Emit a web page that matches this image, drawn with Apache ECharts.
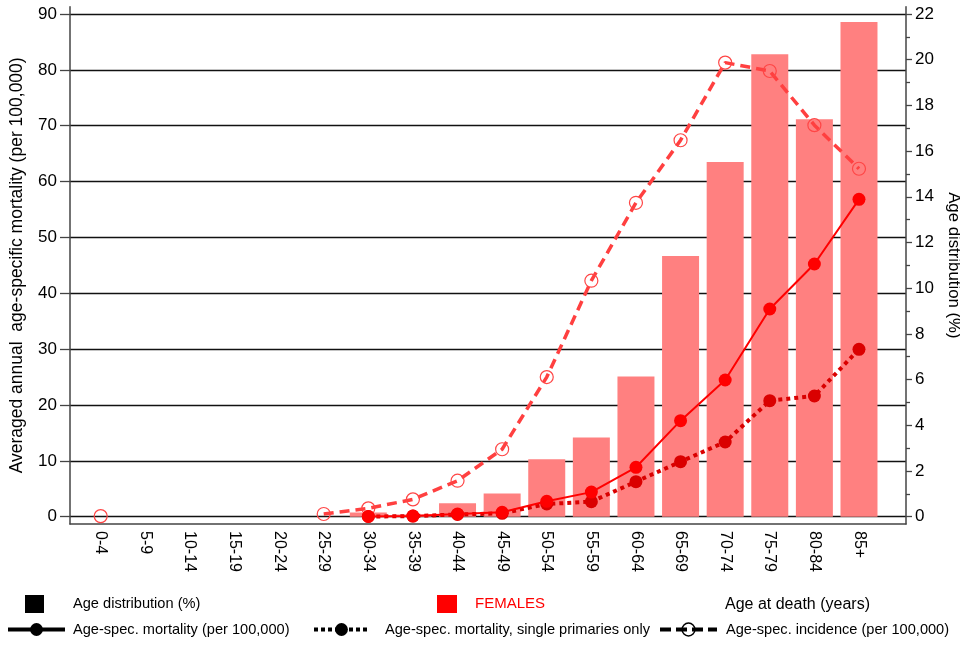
<!DOCTYPE html>
<html>
<head>
<meta charset="utf-8">
<script src="https://cdn.jsdelivr.net/npm/echarts@6/dist/echarts.min.js"></script>
<style>
  html, body { margin: 0; padding: 0; background: #fff; }
  #chart { width: 960px; height: 646px; }
</style>
</head>
<body>
<div id="chart"></div>
<script>
// Age groups (age at death, years)
const categories = ['0-4','5-9','10-14','15-19','20-24','25-29','30-34','35-39','40-44','45-49',
                    '50-54','55-59','60-64','65-69','70-74','75-79','80-84','85+'];

// Age distribution of deaths (%), right axis
const ageDistribution = [null, null, null, null, null, null, 0.18, 0.1, 0.59, 1.02,
                         2.51, 3.47, 6.13, 11.41, 15.52, 20.24, 17.39, 21.65];

// Age-specific mortality (per 100,000)
const mortality = [null, null, null, null, null, null, 0.05, 0.12, 0.48, 0.79,
                   2.75, 4.4, 8.84, 17.19, 24.47, 37.18, 45.24, 56.82];

// Age-specific mortality, single primaries only (per 100,000)
const mortalitySingle = [null, null, null, null, null, null, 0.03, 0.1, 0.4, 0.6,
                         2.27, 2.69, 6.27, 9.85, 13.37, 20.77, 21.61, 29.97];

// Age-specific incidence (per 100,000)
const incidence = [0.1, null, null, null, null, 0.48, 1.5, 3.1, 6.44, 12.07,
                   25.0, 42.25, 56.2, 67.4, 81.3, 79.8, 70.1, 62.3];

// Tick values
const leftTicks = [0, 10, 20, 30, 40, 50, 60, 70, 80, 90];
const rightTicks = [0, 2, 4, 6, 8, 10, 12, 14, 16, 18, 20, 22];
const rightMinorTicks = [1, 3, 5, 7, 9, 11, 13, 15, 17, 19, 21];

const FONT = '"Liberation Sans", Arial, sans-serif';
const LEGEND_FONT = 14.6;
const pairs = arr => arr.map((v, i) => [i, v]);
const catIndex = categories.map((c, i) => i);

const chart = echarts.init(document.getElementById('chart'), null, { renderer: 'canvas' });

const axisLineStyle = { color: '#444', width: 1.5 };

chart.setOption({
  animation: false,
  backgroundColor: '#fff',
  textStyle: { fontFamily: FONT },
  title: {
    text: 'Age at death (years)',
    left: 725, top: 597, padding: 0,
    textStyle: { fontFamily: FONT, fontSize: 16, fontWeight: 'normal', color: '#000' }
  },
  grid: { left: 70, right: 54, top: 6.7, bottom: 122, containLabel: false, outerBoundsMode: 'none' },
  xAxis: {
    type: 'value',
    min: -0.688, max: 18.054,
    axisLine: { show: true, onZero: false, lineStyle: axisLineStyle },
    axisTick: { show: false },
    splitLine: { show: false },
    axisLabel: {
      customValues: catIndex,
      formatter: v => categories[Math.round(v)],
      rotate: -90, fontSize: 16, margin: 7, color: '#000', fontFamily: FONT
    }
  },
  yAxis: [
    {
      type: 'value', position: 'left',
      min: -1.31, max: 91.31,
      name: 'Averaged annual  age-specific mortality (per 100,000)',
      nameLocation: 'middle', nameRotate: 90, nameGap: 44,
      nameTextStyle: { fontSize: 17.5, color: '#000', fontFamily: FONT },
      axisLine: { show: true, onZero: false, lineStyle: axisLineStyle },
      axisTick: { show: true, customValues: leftTicks, length: 10, lineStyle: { color: '#444', width: 1.3 } },
      axisLabel: { customValues: leftTicks, fontSize: 17, margin: 13, color: '#000', fontFamily: FONT },
      splitLine: { show: true, lineStyle: { color: '#111', width: 1.3 } }
    },
    {
      type: 'value', position: 'right',
      min: -0.32, max: 22.32,
      name: 'Age distribution (%)',
      nameLocation: 'middle', nameRotate: -90, nameGap: 34,
      nameTextStyle: { fontSize: 16.8, color: '#000', fontFamily: FONT },
      axisLine: { show: true, onZero: false, lineStyle: axisLineStyle },
      axisTick: { show: true, customValues: rightTicks, length: 6, lineStyle: { color: '#444', width: 1.3 } },
      axisLabel: { customValues: rightTicks, fontSize: 17, margin: 9, color: '#000', fontFamily: FONT },
      splitLine: { show: false }
    },
    {
      // minor ticks of the right axis
      type: 'value', position: 'right',
      min: -0.32, max: 22.32,
      axisLine: { show: false, onZero: false },
      axisTick: { show: true, customValues: rightMinorTicks, length: 4, lineStyle: { color: '#444', width: 1.3 } },
      axisLabel: { show: false },
      splitLine: { show: false }
    }
  ],
  legend: [
    {
      left: 25, top: 595, padding: 0, itemWidth: 19, itemHeight: 18, selectedMode: false,
      data: [{ name: 'Age distribution (%)', icon: 'rect', itemStyle: { color: '#000', borderWidth: 0 } }],
      textStyle: { fontSize: LEGEND_FONT, color: '#000', fontFamily: FONT, padding: [0, 0, 0, 24] }
    },
    {
      left: 437, top: 595, padding: 0, itemWidth: 20, itemHeight: 18, selectedMode: false,
      data: [{ name: 'FEMALES', icon: 'rect', itemStyle: { color: '#FF0000', borderWidth: 0 } }],
      textStyle: { fontSize: 15, color: '#FF0000', fontFamily: FONT, padding: [0, 0, 0, 13] }
    },
    {
      left: 6, top: 622, padding: 0, itemWidth: 57, itemHeight: 16, selectedMode: false,
      data: [{
        name: 'Age-spec. mortality (per 100,000)',
        itemStyle: { color: '#000', borderWidth: 0 },
        lineStyle: { color: '#000', width: 4, type: 'solid' }
      }],
      textStyle: { fontSize: LEGEND_FONT, color: '#000', fontFamily: FONT, padding: [0, 0, 0, 3] }
    },
    {
      left: 312, top: 622, padding: 0, itemWidth: 55, itemHeight: 16, selectedMode: false,
      data: [{
        name: 'Age-spec. mortality, single primaries only',
        itemStyle: { color: '#000', borderWidth: 0 },
        lineStyle: { color: '#000', width: 4, type: [4, 3] }
      }],
      textStyle: { fontSize: LEGEND_FONT, color: '#000', fontFamily: FONT, padding: [0, 0, 0, 11] }
    },
    {
      left: 658, top: 622, padding: 0, itemWidth: 57, itemHeight: 16, selectedMode: false,
      data: [{
        name: 'Age-spec. incidence (per 100,000)',
        itemStyle: { color: 'rgba(0,0,0,0)', borderColor: '#000', borderWidth: 1.5 },
        lineStyle: { color: '#000', width: 4, type: [11, 5] }
      }],
      textStyle: { fontSize: LEGEND_FONT, color: '#000', fontFamily: FONT, padding: [0, 0, 0, 4] }
    }
  ],
  series: [
    {
      name: 'Age distribution (%)',
      type: 'bar',
      yAxisIndex: 1,
      barWidth: 37,
      itemStyle: { color: '#FF8080' },
      data: pairs(ageDistribution),
      z: 2
    },
    {
      name: 'FEMALES',
      type: 'line',
      data: [],
      itemStyle: { color: '#FF0000' }
    },
    {
      name: 'Age-spec. mortality (per 100,000)',
      type: 'line',
      yAxisIndex: 0,
      symbol: 'circle', symbolSize: 13, showSymbol: true,
      lineStyle: { color: '#FF0000', width: 2 },
      itemStyle: { color: '#FF0000' },
      data: pairs(mortality),
      z: 5
    },
    {
      name: 'Age-spec. mortality, single primaries only',
      type: 'line',
      yAxisIndex: 0,
      symbol: 'circle', symbolSize: 13, showSymbol: true,
      lineStyle: { color: '#DA0000', width: 4, type: [4, 4] },
      itemStyle: { color: '#DA0000' },
      data: pairs(mortalitySingle),
      z: 4
    },
    {
      name: 'Age-spec. incidence (per 100,000)',
      type: 'line',
      yAxisIndex: 0,
      symbol: 'circle', symbolSize: 13, showSymbol: true,
      lineStyle: { color: '#FF4040', width: 3.5, type: [10, 6] },
      itemStyle: { color: 'rgba(255,255,255,0)', borderColor: '#FF4545', borderWidth: 1.2 },
      data: pairs(incidence),
      z: 3
    }
  ]
});
</script>
</body>
</html>
